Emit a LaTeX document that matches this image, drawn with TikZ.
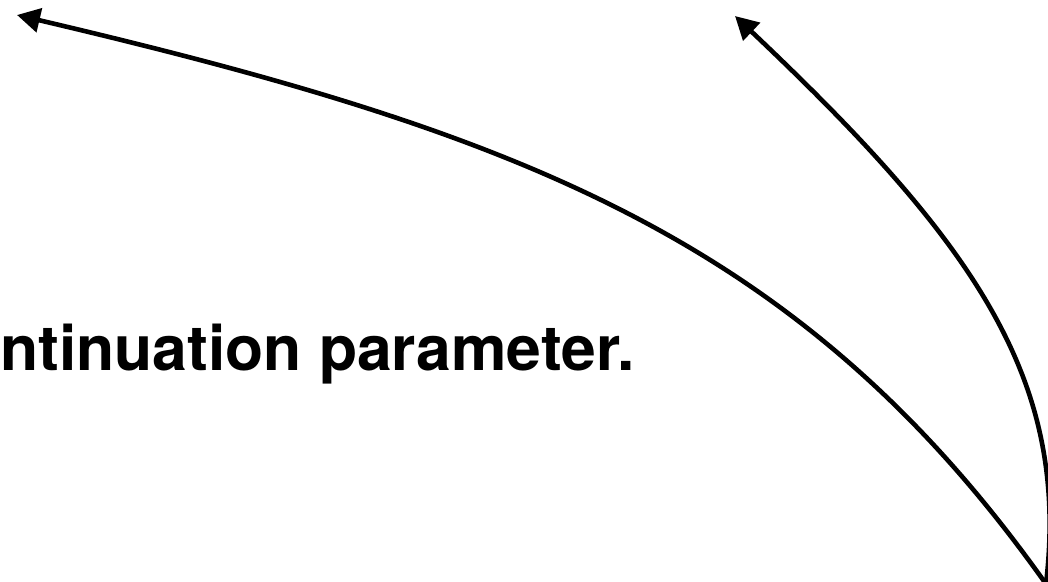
\documentclass[tikz,border=0pt]{standalone}
\usepackage{fontspec}
\setmainfont{TeX Gyre Heros}
\usetikzlibrary{arrows.meta}

\begin{document}
\begin{tikzpicture}[
  x=1pt, y=-1pt,
  lbl/.style={font=\bfseries\fontsize{62.4}{70}\selectfont,
              inner sep=0pt, anchor=base west},
  arr/.style={-{Triangle[length=23pt, width=24pt]}, line width=4.6pt}
]
\useasboundingbox (0,0) rectangle (1048,581);
\clip (0,0) rectangle (1048,581);

\coordinate (src)  at (1046,584);
\coordinate (tipA) at (17,15);
\coordinate (tipB) at (735,16);

\node[lbl] (param) at (0,370) {ntinuation parameter.};

\draw[arr] (src) .. controls (802,240) and (523,134) .. (tipA);
\draw[arr] (src) .. controls (1070,380) and (976,244) .. (tipB);
\end{tikzpicture}
\end{document}
